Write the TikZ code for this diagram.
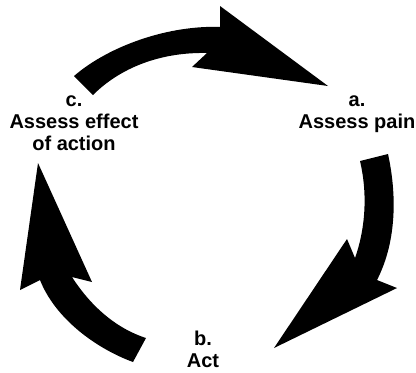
\documentclass[tikz,border=0pt]{standalone}
\usepackage{fontspec}
\setmainfont{Liberation Sans}
\usepackage{tikz}

\begin{document}
\begin{tikzpicture}[x=0.75pt,y=0.75pt,yscale=-1,xscale=1,
  stage/.style={font=\fontsize{15}{16.5}\selectfont\bfseries, align=center, inner sep=0.75pt}]
\useasboundingbox (0,0) rectangle (416,372);

% top arrow, c. to a.
\fill (74,76) .. controls (110,45) and (170,25) .. (220,27) -- (220,6) -- (328,86) -- (192,67) -- (207,53) .. controls (160,52) and (120,68) .. (93,95) -- cycle ;

% right arrow, a. to b.
\fill (388,154) .. controls (398,200) and (395,245) .. (377,280) -- (397,288) -- (274,348) -- (347,239) -- (355,258) .. controls (365,230) and (368,195) .. (360,161) -- cycle ;

% left arrow, b. to c.
\fill (133,362) .. controls (95,348) and (55,318) .. (40,280) -- (20,290) -- (38,163) -- (92,282) -- (72,277) .. controls (90,305) and (115,328) .. (146,338) -- cycle ;

% labels
\draw (357,128) node [anchor=base][stage] (assess) {a.\\Assess pain};
\draw (203,367) node [anchor=base][stage] (act) {b.\\Act};
\draw (74,150) node [anchor=base][stage] (effect) {c.\\Assess effect\\of action};

\end{tikzpicture}
\end{document}
